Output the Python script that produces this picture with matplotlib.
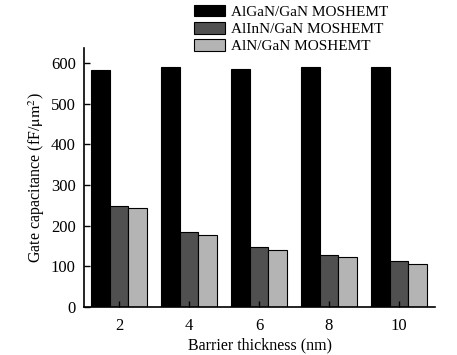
import numpy as np
import matplotlib
matplotlib.use("Agg")
import matplotlib.pyplot as plt

plt.rcParams["font.family"] = ["Liberation Serif", "DejaVu Serif"]
plt.rcParams["mathtext.fontset"] = "stix"

thickness = [2, 4, 6, 8, 10]
algan = [582, 589, 586, 589, 589]
alinn = [248, 184, 147, 129, 114]
aln   = [243, 176, 141, 122, 105]
labels = ["AlGaN/GaN MOSHEMT", "AlInN/GaN MOSHEMT", "AlN/GaN MOSHEMT"]

fig = plt.figure(figsize=(4.57, 3.55), dpi=100)
ax = fig.add_axes([0.184, 0.135, 0.768, 0.73])

x = np.array(thickness, dtype=float)
w = 0.53
ax.bar(x - w, algan, w, color="black", edgecolor="black", lw=0.8, label=labels[0])
ax.bar(x, alinn, w, color="#505050", edgecolor="black", lw=0.8, label=labels[1])
ax.bar(x + w, aln, w, color="#b4b4b4", edgecolor="black", lw=0.8, label=labels[2])

ax.set_xlim(1, 11.03)
ax.set_ylim(0, 637)
ax.set_xticks(thickness)
ax.set_yticks([0, 100, 200, 300, 400, 500, 600])
ax.tick_params(direction="in", length=4, width=1, labelsize=12)
ax.tick_params(axis="x", pad=8)
ax.tick_params(axis="y", pad=6)
for s in ["top", "right"]:
    ax.spines[s].set_visible(False)
for s in ["left", "bottom"]:
    ax.spines[s].set_linewidth(1.2)

ax.set_xlabel("Barrier thickness (nm)", fontsize=11.5, labelpad=2)
ax.set_ylabel("Gate capacitance (fF/$\\mathrm{\\mu m^2}$)", fontsize=11.5, labelpad=3)

ax.legend(loc="upper left", bbox_to_anchor=(0.297, 1.19), frameon=False,
          fontsize=11, handlelength=2.0, handleheight=0.8, labelspacing=0.2,
          handletextpad=0.4, borderaxespad=0)

fig.savefig("out.png", dpi=100)
